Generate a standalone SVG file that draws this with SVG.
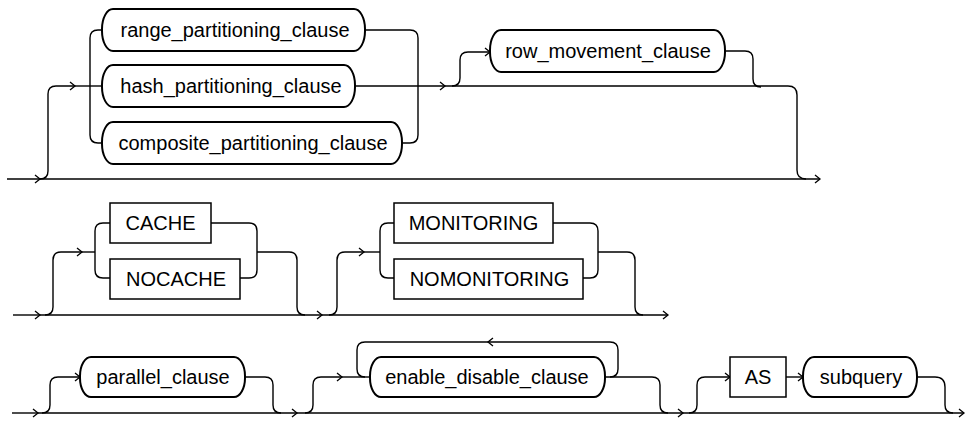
<svg xmlns="http://www.w3.org/2000/svg" width="967" height="421" viewBox="0 0 967 421">
<style>
  .ln{fill:none;stroke:#000;stroke-width:1.4}
  .pill{fill:#fff;stroke:#000;stroke-width:2}
  .box{fill:#fff;stroke:#000;stroke-width:1.5}
  text{font-family:"Liberation Sans",Arial,sans-serif;font-size:20px;fill:#000;text-anchor:middle}
</style>
<defs>
  <marker id="ar" markerWidth="10" markerHeight="10" refX="7" refY="5" orient="auto" markerUnits="userSpaceOnUse">
    <path d="M2,1 L7,5 L2,9" fill="none" stroke="#000" stroke-width="1.3"/>
  </marker>
</defs>
<rect width="967" height="421" fill="#fff"/>
<g id="connectors">
  <!-- row 1 -->
  <path class="ln" d="M7 179 H40" marker-end="url(#ar)"/>
  <path class="ln" d="M40 179 H820" marker-end="url(#ar)"/>
  <path class="ln" d="M40 179 Q48 179 48 171 V94 Q48 86 56 86 H75" marker-end="url(#ar)"/>
  <path class="ln" d="M75 86 H102"/>
  <path class="ln" d="M102 30 H98 Q90 30 90 38 V135 Q90 143 98 143 H102"/>
  <path class="ln" d="M365 30 H410 Q418 30 418 38 V135 Q418 143 410 143 H402"/>
  <path class="ln" d="M355 86 H445" marker-end="url(#ar)"/>
  <path class="ln" d="M445 86 H788 Q797 86 797 95 V170 Q797 179 806 179"/>
  <path class="ln" d="M452 86 Q460 86 460 78 V60 Q460 52 468 52 H490" marker-end="url(#ar)"/>
  <path class="ln" d="M725 51 H745 Q753 51 753 59 V79 Q753 87 761 87"/>
  <!-- row 2 -->
  <path class="ln" d="M13 315 H40" marker-end="url(#ar)"/>
  <path class="ln" d="M40 315 H322" marker-end="url(#ar)"/>
  <path class="ln" d="M322 315 H668" marker-end="url(#ar)"/>
  <path class="ln" d="M45 315 Q53 315 53 307 V260 Q53 252 61 252 H82" marker-end="url(#ar)"/>
  <path class="ln" d="M82 252 H95"/>
  <path class="ln" d="M110 223 H103 Q95 223 95 231 V270 Q95 278 103 278 H110"/>
  <path class="ln" d="M211 223 H249 Q257 223 257 231 V270 Q257 278 249 278 H240"/>
  <path class="ln" d="M257 252 H289 Q297 252 297 260 V307 Q297 315 305 315"/>
  <path class="ln" d="M329 315 Q337 315 337 307 V260 Q337 252 345 252 H364" marker-end="url(#ar)"/>
  <path class="ln" d="M364 252 H380"/>
  <path class="ln" d="M394 223 H388 Q380 223 380 231 V270 Q380 278 388 278 H394"/>
  <path class="ln" d="M553 223 H590 Q598 223 598 231 V270 Q598 278 590 278 H583"/>
  <path class="ln" d="M598 252 H627 Q635 252 635 260 V307 Q635 315 643 315"/>
  <!-- row 3 -->
  <path class="ln" d="M12 413 H38" marker-end="url(#ar)"/>
  <path class="ln" d="M38 413 H297" marker-end="url(#ar)"/>
  <path class="ln" d="M297 413 H683" marker-end="url(#ar)"/>
  <path class="ln" d="M683 413 H964" marker-end="url(#ar)"/>
  <path class="ln" d="M42 413 Q50 413 50 405 V385 Q50 377 58 377 H80" marker-end="url(#ar)"/>
  <path class="ln" d="M245 377 H265 Q273 377 273 385 V405 Q273 413 281 413"/>
  <path class="ln" d="M305 413 Q313 413 313 405 V385 Q313 377 321 377 H342" marker-end="url(#ar)"/>
  <path class="ln" d="M342 377 H370"/>
  <path class="ln" d="M610 377 Q618 377 618 369 V350 Q618 342 610 342 H488" marker-end="url(#ar)"/>
  <path class="ln" d="M488 342 H365 Q357 342 357 350 V369 Q357 377 365 377"/>
  <path class="ln" d="M605 377 H652 Q660 377 660 385 V405 Q660 413 668 413"/>
  <path class="ln" d="M689 413 Q697 413 697 405 V385 Q697 377 705 377 H730" marker-end="url(#ar)"/>
  <path class="ln" d="M786 377 H803" marker-end="url(#ar)"/>
  <path class="ln" d="M917 377 H935 Q945 377 945 387 V405 Q945 413 953 413"/>
</g>
<g id="range_partitioning_clause"><rect class="pill" x="102" y="9" width="263" height="42" rx="11" ry="20"/><text x="235" y="37">range_partitioning_clause</text></g>
<g id="hash_partitioning_clause"><rect class="pill" x="102" y="65" width="253" height="42" rx="11" ry="20"/><text x="231" y="93">hash_partitioning_clause</text></g>
<g id="composite_partitioning_clause"><rect class="pill" x="102" y="122" width="300" height="42" rx="11" ry="20"/><text x="253" y="150">composite_partitioning_clause</text></g>
<g id="row_movement_clause"><rect class="pill" x="490" y="30" width="235" height="42" rx="11" ry="20"/><text x="608" y="58">row_movement_clause</text></g>
<g id="CACHE"><rect class="box" x="110" y="203" width="101" height="40"/><text x="160.5" y="230">CACHE</text></g>
<g id="NOCACHE"><rect class="box" x="110" y="259" width="130" height="40"/><text x="176" y="286">NOCACHE</text></g>
<g id="MONITORING"><rect class="box" x="394" y="203" width="159" height="40"/><text x="473.5" y="230">MONITORING</text></g>
<g id="NOMONITORING"><rect class="box" x="394" y="259" width="189" height="40"/><text x="489.5" y="286">NOMONITORING</text></g>
<g id="parallel_clause"><rect class="pill" x="80" y="357" width="165" height="40" rx="11" ry="19"/><text x="163" y="384">parallel_clause</text></g>
<g id="enable_disable_clause"><rect class="pill" x="370" y="357" width="235" height="40" rx="11" ry="19"/><text x="487" y="384">enable_disable_clause</text></g>
<g id="AS"><rect class="box" x="730" y="357" width="56" height="40"/><text x="758" y="384">AS</text></g>
<g id="subquery"><rect class="pill" x="803" y="357" width="114" height="40" rx="11" ry="19"/><text x="861" y="384">subquery</text></g>
</svg>
